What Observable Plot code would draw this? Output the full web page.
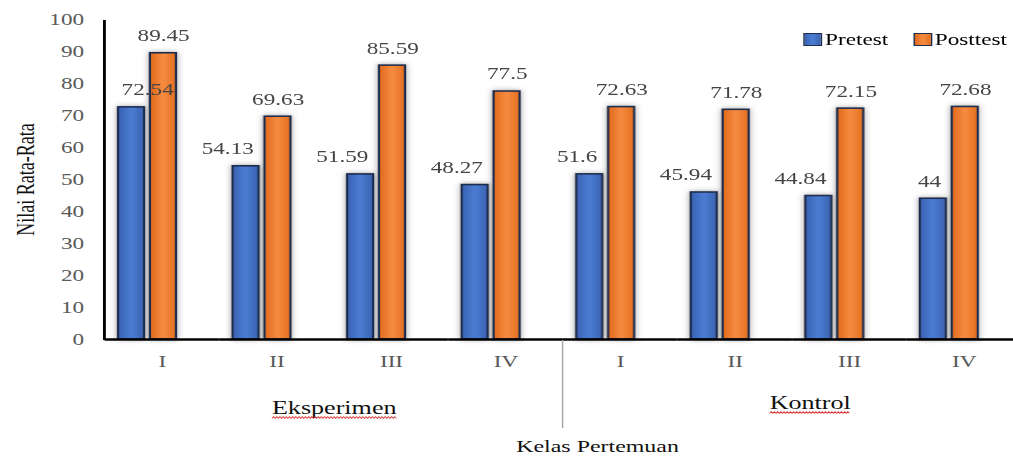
<!DOCTYPE html>
<html><head><meta charset="utf-8">
<script src="https://cdn.jsdelivr.net/npm/d3@7"></script>
<script src="https://cdn.jsdelivr.net/npm/@observablehq/plot@0.6"></script>
<style>
html,body{margin:0;padding:0;overflow:hidden;background:#fff;}
#wrap{position:relative;height:457px;transform-origin:0 0;}
.lg{position:absolute;top:31px;height:17px;display:flex;align-items:center;font:16px 'Liberation Serif',serif;color:#000;white-space:nowrap;}
.sw{display:inline-block;width:11px;height:11px;border:1px solid #1e2d4f;margin-right:2px;}
</style></head><body><div id="wrap"></div><script>
// ---- data ----
const groups = ["Eksperimen", "Kontrol"];
const meetings = ["I", "II", "III", "IV"];
const series = ["Pretest", "Posttest"];
const pretest = [72.54, 54.13, 51.59, 48.27, 51.6, 45.94, 44.84, 44];
const posttest = [89.45, 69.63, 85.59, 77.5, 72.63, 71.78, 72.15, 72.68];
const yTicks = [0, 10, 20, 30, 40, 50, 60, 70, 80, 90, 100];
const yTitle = "Nilai Rata-Rata";
const xTitle = "Kelas Pertemuan";

const keys = groups.flatMap(g => meetings.map(m => g + "|" + m));
const data = [];
keys.forEach((k, i) => {
  data.push({key: k, series: "Pretest", value: pretest[i], idx: i});
  data.push({key: k, series: "Posttest", value: posttest[i], idx: i});
});

// the reference picture is horizontally stretched
const S = 1.45;
const W = 1023 / S;
const wrap = document.getElementById("wrap");
wrap.style.width = W + "px";
wrap.style.transform = `scaleX(${S})`;

const font = "'Liberation Serif', 'Times New Roman', serif";
const chart = Plot.plot({
  width: W, height: 457,
  marginLeft: 101 / S, marginRight: 0, marginTop: 19, marginBottom: 118,
  style: {fontFamily: font, fontSize: "16px", background: "#fff", overflow: "visible"},
  fx: {domain: keys, padding: 0, label: null},
  x: {domain: series, paddingInner: 0.18, paddingOuter: 0.835, align: 0.236, axis: null},
  y: {domain: [0, 100], label: null},
  color: {domain: series, range: ["url(#gBlue)", "url(#gOrange)"]},
  marks: [
    Plot.axisY({ticks: yTicks, tickSize: 0, tickPadding: 14.5, fill: "#595959", fontSize: 16, label: null}),
    Plot.axisFx({anchor: "bottom", tickSize: 0, tickPadding: 16, label: null,
      tickFormat: d => d.split("|")[1], fill: "#595959", fontSize: 16}),
    Plot.barY(data, {fx: "key", x: "series", y: "value", fill: "series", stroke: "#1e2d4f", strokeWidth: 1.6}),
    Plot.ruleY([0], {stroke: "#000", strokeWidth: 2.5}),
    Plot.text(data.filter(d => d.series === "Posttest"), {fx: "key", x: "series", y: "value",
      text: d => String(d.value), dy: -12, lineAnchor: "bottom", fill: "#454545", fontSize: 16}),
    Plot.text(data.filter(d => d.series === "Pretest" && d.idx > 0), {fx: "key", x: "series", y: "value",
      text: d => String(d.value), dy: -12, dx: 5.2, textAnchor: "end", lineAnchor: "bottom", fill: "#454545", fontSize: 16}),
    Plot.text(data.filter(d => d.series === "Pretest" && d.idx === 0), {fx: "key", x: "series", y: "value",
      text: d => String(d.value), dy: -12, dx: 11, textAnchor: "middle", lineAnchor: "bottom", fill: "#454545", fontSize: 16}),
    Plot.text([{key: keys[1], label: groups[0]}], {fx: "key", text: "label", frameAnchor: "bottom-right",
      textAnchor: "middle", lineAnchor: "bottom", dx: 0, dy: 75, fontSize: 18, fill: "#111"}),
    Plot.text([{key: keys[5], label: groups[1]}], {fx: "key", text: "label", frameAnchor: "bottom-right",
      textAnchor: "middle", lineAnchor: "bottom", dx: 12.3, dy: 70, fontSize: 18, fill: "#111"}),
    Plot.text([{key: keys[4], label: xTitle}], {fx: "key", text: "label", frameAnchor: "bottom-left",
      textAnchor: "middle", lineAnchor: "bottom", dx: 23.6, dy: 113, fontSize: 16.5, fill: "#111"}),
    Plot.text([{key: keys[0], label: yTitle}], {fx: "key", text: "label", frameAnchor: "left",
      textAnchor: "middle", lineAnchor: "middle", rotate: -90, dx: -54.5, fontSize: 18, fill: "#111"})
  ]
});
wrap.appendChild(chart);

// defs: gradients + shadow
const svg = d3.select(chart);
const defs = svg.insert("defs", ":first-child");
function grad(id, stops) {
  const g = defs.append("linearGradient").attr("id", id).attr("x1", "0").attr("x2", "1").attr("y1", "0").attr("y2", "0");
  stops.forEach(([o, c]) => g.append("stop").attr("offset", o).attr("stop-color", c));
}
grad("gBlue", [[0, "#3a62b3"], [0.5, "#4b7dd3"], [1, "#3b62b0"]]);
grad("gOrange", [[0, "#e2691c"], [0.5, "#f58c41"], [1, "#e56f20"]]);
const f = defs.append("filter").attr("id", "sh").attr("x", "-50%").attr("y", "-10%").attr("width", "200%").attr("height", "120%");
f.append("feDropShadow").attr("dx", 0).attr("dy", 0).attr("stdDeviation", 2.5).attr("flood-color", "#7f7f7f").attr("flood-opacity", 0.7);
svg.selectAll("g[aria-label='bar']").attr("filter", "url(#sh)");

// axis line and group separator from the library scales
const fxS = chart.scale("fx"), yS = chart.scale("y");
const x0 = fxS.apply(keys[0]);
svg.append("line").attr("x1", x0).attr("x2", x0).attr("y1", yS.apply(0) + 1).attr("y2", yS.apply(100) + 1)
  .attr("stroke", "#000").attr("stroke-width", 2);
const xs = fxS.apply(keys[4]);
svg.append("line").attr("x1", xs).attr("x2", xs).attr("y1", yS.apply(0) + 1).attr("y2", yS.apply(0) + 89)
  .attr("stroke", "#a6a6a6").attr("stroke-width", 1);

// red wavy spell-check underline under the group names
const svgRect = chart.getBoundingClientRect();
svg.selectAll("text").filter(function() { return this.textContent === groups[0] || this.textContent === groups[1]; })
  .each(function() {
    const r = this.getBoundingClientRect();
    const xa = (r.left - svgRect.left) / S, xb = (r.right - svgRect.left) / S;
    const yb = r.bottom - svgRect.top - 1;
    const pts = [];
    for (let x = xa, k = 0; x <= xb; x += 1.1, k++) pts.push([x, yb + (k % 2 ? -0.9 : 0.9)]);
    svg.append("path").attr("d", d3.line()(pts)).attr("fill", "none").attr("stroke", "#d42a2a").attr("stroke-width", 0.7);
  });

// legend
const lg = [["Pretest", "linear-gradient(90deg,#3a62b3,#4b7dd3,#3b62b0)", 554],
            ["Posttest", "linear-gradient(90deg,#e2691c,#f58c41,#e56f20)", 629.7]];
lg.forEach(([name, bg, left]) => {
  const d = document.createElement("div");
  d.className = "lg";
  d.style.left = left + "px";
  d.innerHTML = `<span class="sw" style="background:${bg}"></span><span>${name}</span>`;
  wrap.appendChild(d);
});
</script></body></html>
